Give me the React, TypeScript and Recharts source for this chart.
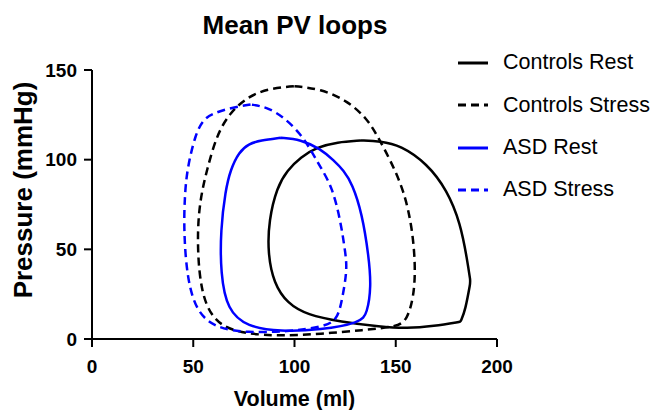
import { LineChart, Line, XAxis, YAxis } from "recharts";

const VOLUME_TICKS = [0, 50, 100, 150, 200];
const PRESSURE_TICKS = [0, 50, 100, 150];

// [volume (ml), pressure (mmHg)] going round each mean loop
const controlsRest: [number, number][] = [
  [132.6, 110.7], [121.1, 109.8], [111.2, 107], [103, 101.4], [96.4, 94], [91.4, 84.8],
  [87.3, 66.2], [86.8, 47.7], [89.8, 31], [96.4, 19.9], [106.3, 13.4], [122.7, 9.6],
  [142.5, 6.8], [155.6, 5.9], [168.8, 7.2], [182, 9.6], [182, 9.6], [184.4, 16.1],
  [186.9, 31.9], [186.9, 31.9], [185.3, 44], [182, 64.4], [175.4, 82.9], [165.5, 97.8],
  [152.3, 108], [142.5, 110.3], [132.6, 110.7],
];

const controlsStress: [number, number][] = [
  [99.7, 141], [86.5, 139.5], [76.6, 134.8], [68.4, 126.5], [61.8, 114.5], [56.9, 95],
  [53.6, 79.2], [52, 60.7], [52.7, 36.6], [56, 18], [63.5, 6.8], [76.6, 2.8], [93, 1.7],
  [112.8, 2.8], [134.2, 5], [150.7, 6.8], [155.6, 10.6], [158.9, 23.5], [159.8, 40.2],
  [158.1, 62.5], [154, 82.9], [147.4, 99.6], [140.8, 113.5], [135.9, 122.8], [126, 133],
  [112.8, 139.5], [99.7, 141],
];

const asdRest: [number, number][] = [
  [93.1, 112.2], [83.2, 110.7], [77.4, 108.9], [72.5, 104.2], [68.4, 94.4], [65.9, 82.9],
  [63.5, 60.7], [63.5, 36.6], [66.8, 16.1], [76.6, 6.8], [93, 4.1], [112.8, 5],
  [132.6, 9.1], [135.9, 14.3], [137.9, 29.1], [136.7, 45.8], [133.4, 69.9], [128.5, 86.6],
  [124.3, 94], [119.4, 99.6], [112.8, 106.1], [103, 111.3], [93.1, 112.2],
];

const asdStress: [number, number][] = [
  [78.3, 130.8], [68.4, 128.9], [60.1, 125.9], [55.2, 122.8], [51.1, 114.5], [47, 95],
  [45.8, 80], [45.3, 60.7], [47, 32.8], [52, 14.3], [61.8, 5.9], [76.6, 3.5], [96.4, 4.1],
  [114.5, 6.8], [121.1, 10.6], [123.5, 21.7], [126, 38.4], [125.2, 47.7], [122.7, 66.2],
  [118.6, 84.8], [112.8, 95.9], [108.7, 104.2], [103, 114.5], [94.7, 123.7], [86.5, 129.3],
  [78.3, 130.8],
];

const SERIES = [
  { name: "Controls Rest", points: controlsRest, color: "#000000", dashed: false },
  { name: "Controls Stress", points: controlsStress, color: "#000000", dashed: true },
  { name: "ASD Rest", points: asdRest, color: "#0000ff", dashed: false },
  { name: "ASD Stress", points: asdStress, color: "#0000ff", dashed: true },
];

const toRows = (pts: [number, number][]) => pts.map(([v, p]) => ({ v, p }));

const XTitle = ({ viewBox }: any) => (
  <text
    x={viewBox.x + viewBox.width / 2}
    y={viewBox.y + 67}
    textAnchor="middle"
    fontSize={21.5}
    fontWeight={700}
    fill="#000"
  >
    Volume (ml)
  </text>
);

const YTitle = () => (
  <text
    x={32}
    y={190}
    transform="rotate(-90, 32, 190)"
    textAnchor="middle"
    fontSize={26}
    fontWeight={700}
    fill="#000"
  >
    Pressure (mmHg)
  </text>
);

const axisStroke = { stroke: "#000", strokeWidth: 2 };
const tickStyle = { fill: "#000", fontSize: 19, fontWeight: 700 };

export default function App() {
  return (
    <div
      style={{
        position: "absolute",
        left: 0,
        top: 0,
        width: 656,
        height: 410,
        background: "#fff",
        fontFamily: "'Liberation Sans', Arial, sans-serif",
      }}
    >
      <div
        style={{
          position: "absolute",
          left: 195,
          top: 11.5,
          width: 200,
          textAlign: "center",
          fontSize: 26,
          lineHeight: "26px",
          fontWeight: 700,
        }}
      >
        Mean PV loops
      </div>

      <LineChart width={656} height={410} margin={{ top: 70, right: 159, left: 0, bottom: 0 }}>
        <XAxis
          dataKey="v"
          type="number"
          domain={[0, 200]}
          ticks={VOLUME_TICKS}
          allowDataOverflow
          height={71}
          tickSize={8}
          tickMargin={13}
          axisLine={axisStroke}
          tickLine={axisStroke}
          tick={tickStyle}
          label={XTitle}
        />
        <YAxis
          type="number"
          domain={[0, 150]}
          ticks={PRESSURE_TICKS}
          allowDataOverflow
          width={92}
          tickSize={8}
          tickMargin={7}
          axisLine={axisStroke}
          tickLine={axisStroke}
          tick={tickStyle}
          label={YTitle}
        />
        {SERIES.map((s) => (
          <Line
            key={s.name}
            name={s.name}
            data={toRows(s.points)}
            dataKey="p"
            type="basis"
            stroke={s.color}
            strokeWidth={2.5}
            strokeDasharray={s.dashed ? "8 5" : undefined}
            dot={false}
            activeDot={false}
            isAnimationActive={false}
          />
        ))}
      </LineChart>

      <div style={{ position: "absolute", left: 458, top: 42, fontSize: 21.5 }}>
        {SERIES.map((s) => (
          <div key={s.name} style={{ display: "flex", alignItems: "center", height: 42.3 }}>
            <svg width={30} height={6} style={{ marginRight: 15 }}>
              <line
                x1={0}
                y1={3}
                x2={30}
                y2={3}
                stroke={s.color}
                strokeWidth={3}
                strokeDasharray={s.dashed ? "8 5" : undefined}
              />
            </svg>
            <span style={{ lineHeight: "21.5px", whiteSpace: "nowrap" }}>{s.name}</span>
          </div>
        ))}
      </div>
    </div>
  );
}
